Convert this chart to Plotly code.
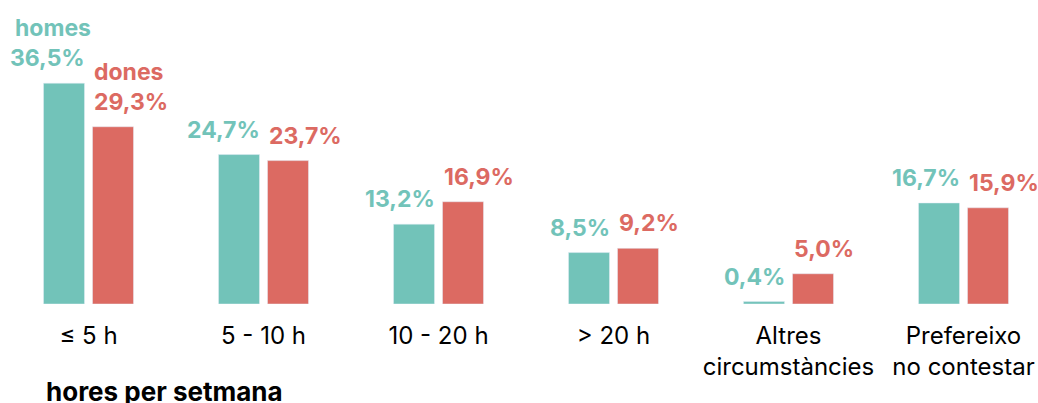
import plotly.graph_objects as go

categories = ["≤ 5 h", "5 - 10 h", "10 - 20 h", "> 20 h", "Altres<br>circumstàncies", "Prefereixo<br>no contestar"]
homes = [36.5, 24.7, 13.2, 8.5, 0.4, 16.7]
dones = [29.3, 23.7, 16.9, 9.2, 5.0, 15.9]
series_names = ["homes", "dones"]
axis_title = "hores per setmana"

TEAL = "#72c3b9"
RED = "#dc6a62"
FONT = "Inter"

W, H = 1038, 403
PX_PER_CAT = 175.0
bw = 41 / PX_PER_CAT
gap = 4 / PX_PER_CAT

xs = list(range(len(categories)))

def fmt(v):
    return f"{v:.1f}".replace(".", ",") + "%"

fig = go.Figure()
fig.add_trace(go.Bar(x=xs, y=homes, name=series_names[0], marker_color=TEAL,
                     width=bw, offset=-gap - bw, hoverinfo="skip"))
fig.add_trace(go.Bar(x=xs, y=dones, name=series_names[1], marker_color=RED,
                     width=bw, offset=gap, hoverinfo="skip"))

annotations = []
for i, (h, d) in enumerate(zip(homes, dones)):
    annotations.append(dict(x=i - gap, y=h, xref="x", yref="y", text=fmt(h),
                            xanchor="right", yanchor="bottom", showarrow=False,
                            xshift=2, yshift=9,
                            font=dict(family=FONT, size=23, color=TEAL, weight=700)))
    annotations.append(dict(x=i + gap, y=d, xref="x", yref="y", text=fmt(d),
                            xanchor="left", yanchor="bottom", showarrow=False,
                            xshift=-1, yshift=9,
                            font=dict(family=FONT, size=23, color=RED, weight=700)))
# series labels above first group
annotations.append(dict(x=0 - gap, y=homes[0], xref="x", yref="y", text=series_names[0],
                        xanchor="right", yanchor="bottom", showarrow=False,
                        xshift=8, yshift=39,
                        font=dict(family=FONT, size=23, color=TEAL, weight=700)))
annotations.append(dict(x=0 + gap, y=dones[0], xref="x", yref="y", text=series_names[1],
                        xanchor="left", yanchor="bottom", showarrow=False,
                        xshift=-1, yshift=39,
                        font=dict(family=FONT, size=23, color=RED, weight=700)))
annotations.append(dict(x=44 / W, y=0, xref="paper", yref="paper", text=axis_title,
                        xanchor="left", yanchor="top", showarrow=False, yshift=-70,
                        font=dict(family=FONT, size=26, color="#000000", weight=700)))

x0 = -88.5 / PX_PER_CAT
x1 = (W - 88.5) / PX_PER_CAT
fig.update_layout(
    width=W, height=H,
    margin=dict(l=0, r=0, t=0, b=99, pad=0, autoexpand=False),
    paper_bgcolor="white", plot_bgcolor="white",
    showlegend=False, barmode="overlay",
    annotations=annotations,
    xaxis=dict(range=[x0, x1], tickmode="array", tickvals=xs, ticktext=categories,
               showgrid=False, zeroline=False, showline=False, ticks="",
               ticklabelstandoff=15, automargin=False,
               tickfont=dict(family=FONT, size=24, color="#000000"), fixedrange=True),
    yaxis=dict(range=[0, 304 / 6.05], visible=False, fixedrange=True, automargin=False),
)
fig.write_html("out.html", config={"displayModeBar": False},
               post_script="document.body.style.margin='0';document.body.style.overflow='hidden';")
